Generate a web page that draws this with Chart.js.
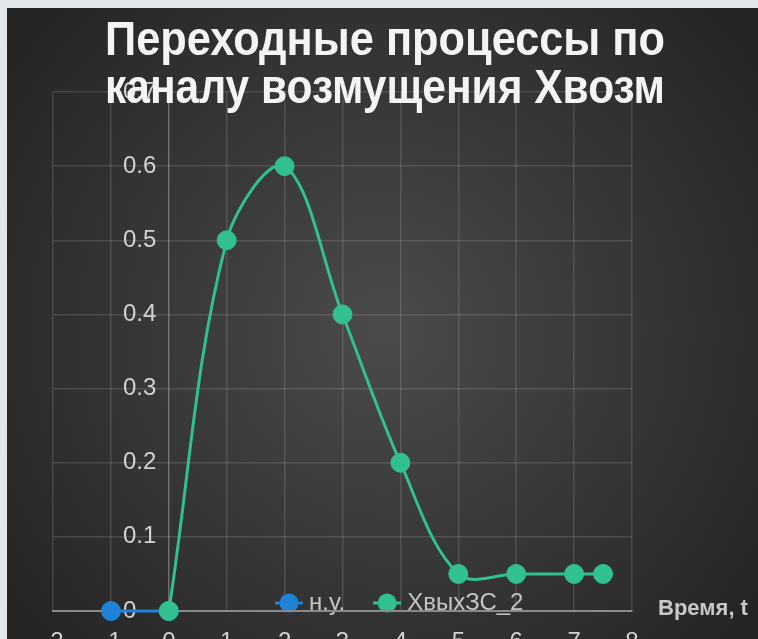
<!DOCTYPE html>
<html><head><meta charset="utf-8">
<script src="https://cdn.jsdelivr.net/npm/chart.js@4/dist/chart.umd.min.js"></script>
<style>html,body{margin:0;padding:0;background:#e2e6e9;overflow:hidden}#wrap{position:relative;width:758px;height:639px}</style>
</head><body><div id="wrap"><canvas id="c" width="758" height="639"></canvas></div>
<script>
// ---- data ----
const titleLines = ['Переходные процессы по', 'каналу возмущения Хвозм'];
const seriesNames = ['н.у.', 'ХвыхЗС_2'];
const nuX = [-1, 0];
const nuY = [0, 0];
const outX = [0, 1, 2, 3, 4, 5, 6, 7, 7.5];
const outY = [0, 0.5, 0.6, 0.4, 0.2, 0.05, 0.05, 0.05, 0.05];
const xTickLabels = ['-2', '-1', '0', '1', '2', '3', '4', '5', '6', '7', '8'];
const yTickLabels = ['0', '0.1', '0.2', '0.3', '0.4', '0.5', '0.6', '0.7'];
const xAxisTitle = 'Время, t';

const BLUE = '#1f83d8';
const GREEN = '#31c08f';
const FONT = '"Liberation Sans", Arial, sans-serif';

function legendIcon(color) {
  const cv = document.createElement('canvas');
  cv.width = 28; cv.height = 22;
  const g = cv.getContext('2d');
  g.strokeStyle = color; g.lineWidth = 3;
  g.beginPath(); g.moveTo(0, 11); g.lineTo(28, 11); g.stroke();
  g.fillStyle = color;
  g.beginPath(); g.arc(14, 11, 9.5, 0, Math.PI * 2); g.fill();
  return cv;
}
const icons = [legendIcon(BLUE), legendIcon(GREEN)];

const bgPlugin = {
  id: 'bg',
  beforeLayout(chart) {
    const lg = chart.legend;
    if (lg && !lg._patched) {
      const f = lg.fit;
      lg.fit = function () { f.call(this); this.height = 0; };
      lg._patched = true;
    }
  },
  beforeDraw(chart) {
    const {ctx, width, height} = chart;
    ctx.save();
    ctx.fillStyle = '#e2e6e9';
    ctx.fillRect(0, 0, width, height);
    const g = ctx.createRadialGradient(385, 330, 0, 385, 330, 470);
    g.addColorStop(0, '#4b4b4b');
    g.addColorStop(1, '#242424');
    ctx.fillStyle = g;
    ctx.fillRect(7, 8, width - 7, height - 8);
    ctx.restore();
    // legend sits inside the plot, near the x axis
    const lg = chart.legend;
    if (lg) { lg.left = 247; lg.right = 758; lg.top = 557; lg.bottom = 639; lg.width = lg.right - lg.left; lg.height = lg.bottom - lg.top; }
    // title centred over the whole chart box, condensed to the reference width
    const tb = chart.titleBlock;
    if (tb) { tb.left = 105; tb.right = 665; tb.width = tb.right - tb.left; }
  },
  afterDraw(chart) {
    const {ctx, chartArea} = chart;
    const y0 = chart.scales.y.getPixelForValue(0);
    ctx.save();
    ctx.font = 'bold 22px ' + FONT;
    ctx.fillStyle = '#c8c8c8';
    ctx.textBaseline = 'alphabetic';
    ctx.fillText(xAxisTitle, chartArea.right + 26, y0 + 4);
    ctx.restore();
  }
};

new Chart(document.getElementById('c'), {
  type: 'line',
  data: {
    datasets: [
      {
        label: seriesNames[0],
        data: nuX.map((x, i) => ({x, y: nuY[i]})),
        borderColor: BLUE, backgroundColor: BLUE,
        borderWidth: 3, pointRadius: 9.5, pointBorderWidth: 1, pointBorderColor: BLUE,
        tension: 0, clip: false, order: 1
      },
      {
        label: seriesNames[1],
        data: outX.map((x, i) => ({x, y: outY[i]})),
        borderColor: GREEN, backgroundColor: GREEN,
        borderWidth: 3, pointRadius: 9.5, pointBorderWidth: 1, pointBorderColor: GREEN,
        tension: 0.35, clip: false, order: 0
      }
    ]
  },
  options: {
    responsive: false,
    animation: false,
    devicePixelRatio: 1,
    layout: {padding: {left: 53, right: 126, top: 0, bottom: 0}},
    plugins: {
      title: {
        display: true, text: titleLines, color: '#f4f4f4',
        font: {family: FONT, size: 48, weight: 'bold', lineHeight: 1.0},
        padding: {top: 18, bottom: -22}
      },
      legend: {
        display: true, position: 'bottom', align: 'start',
        labels: {
          usePointStyle: true, boxWidth: 16, padding: 34, color: '#c4c4c4',
          font: {family: FONT, size: 24},
          generateLabels(chart) {
            return chart.data.datasets.map((ds, i) => ({
              text: ds.label, pointStyle: icons[i], fillStyle: ds.borderColor,
              strokeStyle: ds.borderColor, lineWidth: 0, hidden: false, datasetIndex: i, fontColor: '#c4c4c4'
            }));
          }
        }
      },
      tooltip: {enabled: false}
    },
    scales: {
      x: {
        type: 'linear', position: 'bottom', min: -2, max: 8,
        afterFit(s) { s.height = 28; },
        ticks: {
          stepSize: 1, autoSkip: false, maxRotation: 0, padding: 17,
          color: '#d2d2d2', font: {family: FONT, size: 24},
          callback: (v) => xTickLabels[Math.round(v) + 2]
        },
        grid: {
          drawTicks: false, lineWidth: 1.5,
          color: (ctx) => (ctx.tick && ctx.tick.value === 0) ? 'rgba(255,255,255,0.30)' : 'rgba(255,255,255,0.13)'
        },
        border: {display: true, color: '#8a8a8a', width: 2}
      },
      y: {
        type: 'linear', position: 'left', min: 0, max: 0.7,
        afterFit(s) { s.width = 0; s.paddingTop = 0; s.paddingBottom = 0; },
        ticks: {
          stepSize: 0.1, mirror: true, crossAlign: 'near', padding: 70, z: -1,
          color: '#d2d2d2', font: {family: FONT, size: 24},
          callback: (v) => yTickLabels[Math.round(v * 10)]
        },
        grid: {drawTicks: false, lineWidth: 1.5, color: 'rgba(255,255,255,0.13)'},
        border: {display: false}
      }
    }
  },
  plugins: [bgPlugin]
});
</script>
</body></html>
